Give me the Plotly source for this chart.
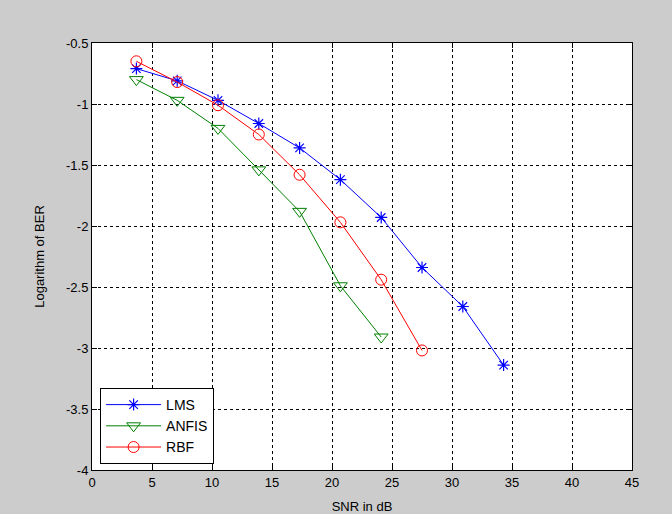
import plotly.graph_objects as go

snr_lms = [3.7, 7.1, 10.5, 13.9, 17.3, 20.7, 24.1, 27.5, 30.9, 34.3]
ber_lms = [-0.71, -0.81, -0.97, -1.16, -1.36, -1.62, -1.93, -2.34, -2.66, -3.14]
snr_anfis = [3.7, 7.1, 10.5, 13.9, 17.3, 20.7, 24.1]
ber_anfis = [-0.80, -0.97, -1.20, -1.54, -1.88, -2.49, -2.91]
snr_rbf = [3.7, 7.1, 10.5, 13.9, 17.3, 20.7, 24.1, 27.5]
ber_rbf = [-0.65, -0.82, -1.01, -1.25, -1.58, -1.97, -2.44, -3.02]
x_ticks = [0, 5, 10, 15, 20, 25, 30, 35, 40, 45]
y_ticks = [-4, -3.5, -3, -2.5, -2, -1.5, -1, -0.5]

FONT = "Liberation Sans, Arial"

fig = go.Figure()
fig.add_trace(go.Scatter(x=snr_lms, y=ber_lms, name="LMS", mode="lines+markers",
                         line=dict(color="#0000ff", width=1),
                         marker=dict(symbol="asterisk-open", size=10,
                                     line=dict(color="#0000ff", width=1.2))))
fig.add_trace(go.Scatter(x=snr_anfis, y=ber_anfis, name="ANFIS", mode="lines+markers",
                         line=dict(color="#008000", width=1),
                         marker=dict(symbol="triangle-down-open", size=12,
                                     color="#008000", line=dict(color="#008000", width=1))))
fig.add_trace(go.Scatter(x=snr_rbf, y=ber_rbf, name="RBF", mode="lines+markers",
                         line=dict(color="#ff0000", width=1),
                         marker=dict(symbol="circle-open", size=11,
                                     color="#ff0000", line=dict(color="#ff0000", width=1))))

axis_common = dict(showline=True, linecolor="black", linewidth=1, mirror="ticks",
                   ticks="inside", ticklen=5, tickcolor="black", automargin=False,
                   showgrid=True, gridcolor="black", gridwidth=1, griddash="3px,3px",
                   zeroline=False, tickfont=dict(family=FONT, size=13, color="black"))

fig.update_xaxes(range=[0, 45], tickvals=x_ticks,
                 title=dict(text="SNR in dB", font=dict(family=FONT, size=13, color="black"), standoff=13),
                 **axis_common)
fig.update_yaxes(range=[-4, -0.5], tickvals=y_ticks, ticktext=[str(v) for v in y_ticks],
                 title=dict(text="Logarithm of BER", font=dict(family=FONT, size=13, color="black"), standoff=18),
                 **axis_common)

fig.update_layout(
    width=672, height=514,
    margin=dict(l=92, r=40, t=43, b=44),
    paper_bgcolor="#cccccc", plot_bgcolor="white",
    showlegend=True,
    legend=dict(x=0.015, y=0.192, xanchor="left", yanchor="top",
                bgcolor="white", bordercolor="black", borderwidth=1,
                font=dict(family=FONT, size=14, color="black"),
                tracegroupgap=0, itemwidth=55),
)

fig.write_html("out.html", config={"displayModeBar": False},
               post_script="document.body.style.margin='0';document.body.style.background='#cccccc';")
